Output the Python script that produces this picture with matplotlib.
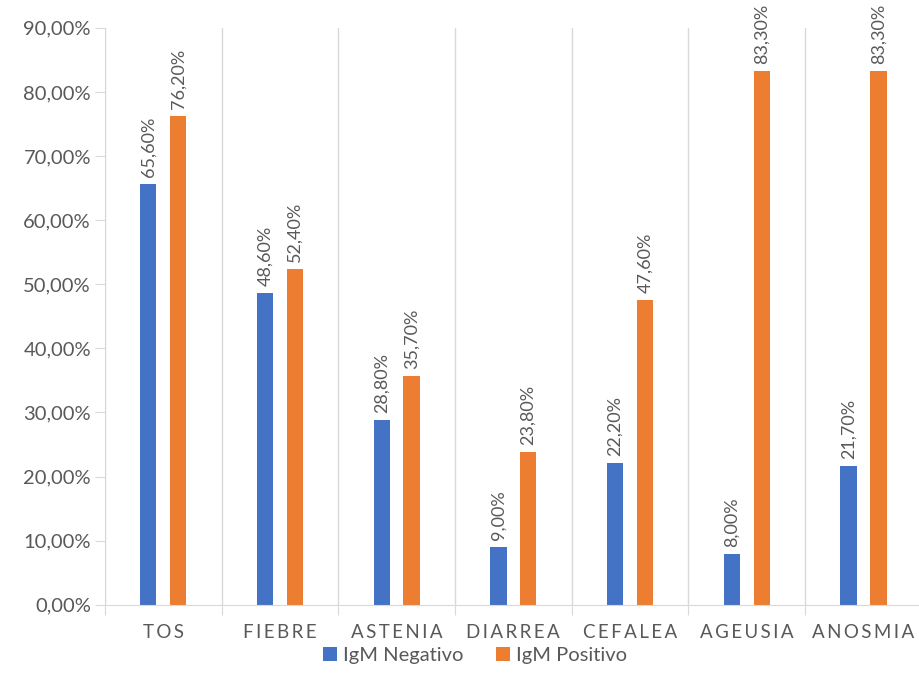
import numpy as np
import matplotlib.pyplot as plt
from matplotlib.ticker import FuncFormatter

plt.rcParams['font.family'] = ['Lato', 'DejaVu Sans']

categories = ['TOS', 'FIEBRE', 'ASTENIA', 'DIARREA', 'CEFALEA', 'AGEUSIA', 'ANOSMIA']
negativo = [65.6, 48.6, 28.8, 9.0, 22.2, 8.0, 21.7]
positivo = [76.2, 52.4, 35.7, 23.8, 47.6, 83.3, 83.3]

blue = '#4472C4'
orange = '#ED7D31'
txt = '#595959'
grid = '#D9D9D9'

fig = plt.figure(figsize=(9.2, 6.96), dpi=100)
ax = fig.add_axes([0.114, 0.131, 0.888, 0.829])

x = np.arange(len(categories))
off = 0.128
w = 0.14
b1 = ax.bar(x - off, negativo, w, color=blue, label='IgM Negativo')
b2 = ax.bar(x + off, positivo, w, color=orange, label='IgM Positivo')

def pct(v):
    return f'{v:.2f}%'.replace('.', ',')

for bars, vals in ((b1, negativo), (b2, positivo)):
    for r, v in zip(bars, vals):
        ax.annotate(pct(v), (r.get_x() + r.get_width() / 2, v), xytext=(0, 5),
                    textcoords='offset points', rotation=90, ha='center', va='bottom',
                    fontsize=13, color=txt, annotation_clip=False)

ax.set_ylim(0, 90)
ax.set_yticks(np.arange(0, 91, 10))
ax.yaxis.set_major_formatter(FuncFormatter(lambda v, p: pct(v)))
ax.set_xlim(-0.5, len(categories) - 0.5)
ax.set_xticks(np.arange(-0.5, len(categories), 1))
ax.set_xticklabels([])
ax.set_xticks(x, minor=True)
ax.set_xticklabels(['\u2009'.join(c) for c in categories], minor=True)
ax.tick_params(axis='x', which='minor', length=0, pad=14, labelsize=13.5, labelcolor=txt)
ax.tick_params(axis='x', which='major', length=7, color=grid)
ax.tick_params(axis='y', length=7, color=grid, labelsize=14.5, labelcolor=txt, pad=3)
ax.grid(axis='x', which='major', color=grid, linewidth=1)
ax.set_axisbelow(True)
for s in ('top', 'right'):
    ax.spines[s].set_visible(False)
ax.spines['left'].set_color(grid)
ax.spines['bottom'].set_color(grid)

fig.legend(loc='center', bbox_to_anchor=(0.516, 0.058), ncol=2, frameon=False,
           fontsize=14.5, labelcolor=txt, handlelength=0.7, handleheight=0.7,
           handletextpad=0.3, columnspacing=1.6)

fig.savefig('out.png', dpi=100)
